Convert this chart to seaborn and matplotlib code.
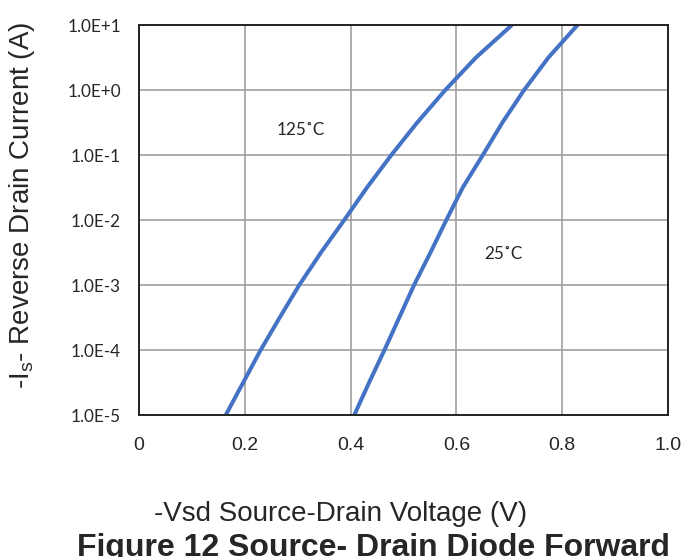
import numpy as np
import pandas as pd
import matplotlib
matplotlib.use("Agg")
import matplotlib.pyplot as plt
import seaborn as sns

# values (voltage in V, current in A)
current = [1e-5, 10**-4.5, 1e-4, 10**-3.5, 1e-3, 10**-2.5, 1e-2,
           10**-1.5, 1e-1, 10**-0.5, 1e0, 10**0.5, 1e1]
vsd_125 = [0.164, 0.197, 0.230, 0.266, 0.303, 0.344, 0.388,
           0.431, 0.477, 0.526, 0.579, 0.637, 0.705]
vsd_25 = [0.407, 0.435, 0.464, 0.492, 0.520, 0.551, 0.581,
          0.612, 0.650, 0.687, 0.728, 0.774, 0.829]

x_ticks = [0, 0.2, 0.4, 0.6, 0.8, 1.0]
x_ticklabels = ["0", "0.2", "0.4", "0.6", "0.8", "1.0"]
y_ticks = [1e-5, 1e-4, 1e-3, 1e-2, 1e-1, 1e0, 1e1]
y_ticklabels = ["1.0E-5", "1.0E-4", "1.0E-3", "1.0E-2", "1.0E-1", "1.0E+0", "1.0E+1"]

df = pd.concat([
    pd.DataFrame({"Vsd": vsd_125, "Is": current, "T": "125"}),
    pd.DataFrame({"Vsd": vsd_25, "Is": current, "T": "25"}),
])

sns.set_style("white")
plt.rcParams["font.family"] = ["Liberation Sans", "DejaVu Sans"]

fig = plt.figure(figsize=(6.98, 5.57), dpi=100)
ax = fig.add_axes([139 / 698, 1 - 415 / 557, 529 / 698, 390 / 557])

sns.lineplot(data=df, x="Vsd", y="Is", units="T", estimator=None, sort=False,
             color="#4472C4", linewidth=2.9, solid_joinstyle="round",
             solid_capstyle="butt", ax=ax)

ax.set_yscale("log")
ax.set_xlim(0, 1.0)
ax.set_ylim(1e-5, 1e1)
ax.set_xticks(x_ticks)
ax.set_xticklabels(x_ticklabels, fontsize=14)
ax.set_yticks(y_ticks)
ax.set_yticklabels(y_ticklabels, fontsize=12.3, family=["Lato", "DejaVu Sans"])
ax.minorticks_off()
ax.tick_params(axis="x", length=0, pad=16)
ax.tick_params(axis="y", length=0, pad=13)
ax.grid(True, color="#a0a0a0", linewidth=1.2)
ax.set_axisbelow(True)
for s in ax.spines.values():
    s.set_color("#222222")
    s.set_linewidth(1.4)
ax.set_xlabel("")
ax.set_ylabel("")

ax.text(0.305, 0.24, "125˚C", fontsize=12.3, family=["Lato", "DejaVu Sans"],
        ha="center", va="center")
ax.text(0.688, 3.05e-3, "25˚C", fontsize=12.3, family=["Lato", "DejaVu Sans"],
        ha="center", va="center")

fig.text(22 / 698, 1 - 205 / 557, "-I$_\\mathregular{s}$- Reverse Drain Current (A)",
         rotation=90, fontsize=20, ha="center", va="center")
fig.text(341 / 698, 1 - 514 / 557, "-Vsd Source-Drain Voltage (V)",
         fontsize=20, ha="center", va="center")
fig.text(373 / 698, 1 - 556 / 557, "Figure 12 Source- Drain Diode Forward",
         fontsize=23, fontweight="bold", ha="center", va="baseline")

fig.savefig("out.png", dpi=100)
